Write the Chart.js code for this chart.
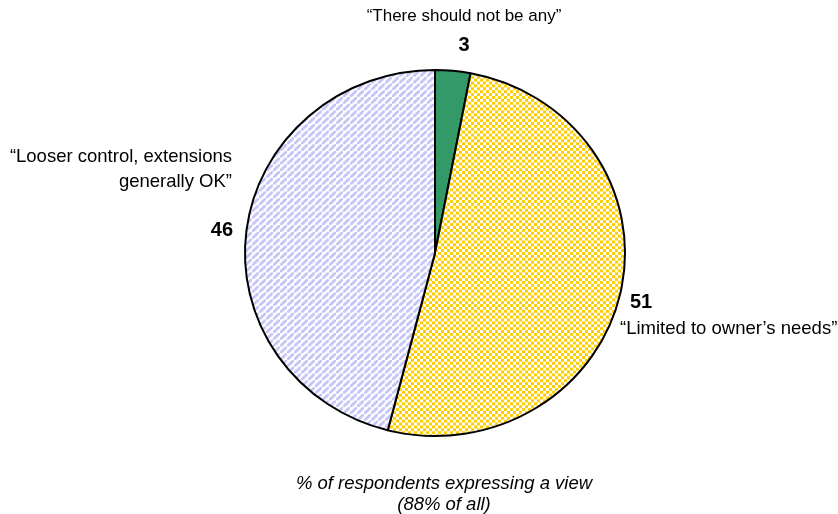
<!DOCTYPE html>
<html>
<head>
<meta charset="utf-8">
<script src="https://cdn.jsdelivr.net/npm/chart.js@4/dist/chart.umd.min.js"></script>
<style>
  html, body { margin: 0; padding: 0; background: #fff; }
  #wrap { width: 838px; height: 514px; }
</style>
</head>
<body>
<div id="wrap"><canvas id="pieChart" width="838" height="514"></canvas></div>
<script>
// data, clockwise from 12 o'clock
const categories = ['“There should not be any”', '“Limited to owner’s needs”', '“Looser control, extensions generally OK”'];
const shares = [3, 51, 46];
const valueLabels = ['3', '51', '46'];
const footnote = ['% of respondents expressing a view', '(88% of all)'];

document.addEventListener('DOMContentLoaded', function() {
    const ctx = document.getElementById('pieChart').getContext('2d');

    function checkerPattern(color, cell) {
        const c = document.createElement('canvas');
        c.width = cell * 2;
        c.height = cell * 2;
        const g = c.getContext('2d');
        g.fillStyle = '#fff';
        g.fillRect(0, 0, c.width, c.height);
        g.fillStyle = color;
        g.fillRect(0, 0, cell, cell);
        g.fillRect(cell, cell, cell, cell);
        return ctx.createPattern(c, 'repeat');
    }

    function stripePattern(color, size, width) {
        const c = document.createElement('canvas');
        c.width = size;
        c.height = size;
        const g = c.getContext('2d');
        g.fillStyle = '#fff';
        g.fillRect(0, 0, size, size);
        g.strokeStyle = color;
        g.lineWidth = width;
        g.beginPath();
        g.moveTo(-size, size * 2); g.lineTo(size * 2, -size);
        g.moveTo(-size * 2, size); g.lineTo(size, -size * 2);
        g.moveTo(0, size * 3); g.lineTo(size * 3, 0);
        g.stroke();
        return ctx.createPattern(c, 'repeat');
    }

    const fills = [
        '#339966',
        checkerPattern('#FFCC00', 3),
        stripePattern('#C4C4F8', 7, 2.8)
    ];

    // squash the pie a little vertically, as in the original
    const squash = {
        id: 'squash',
        beforeDatasetsDraw(chart) {
            const arc = chart.getDatasetMeta(0).data[0];
            const c = chart.ctx;
            c.save();
            c.translate(arc.x, arc.y);
            c.scale(1, 184 / 191);
            c.translate(-arc.x, -arc.y);
        },
        afterDatasetsDraw(chart) {
            chart.ctx.restore();
        }
    };

    const labelText = {
        id: 'labelText',
        afterDraw(chart) {
            const c = chart.ctx;
            c.save();
            c.fillStyle = '#000';
            c.textBaseline = 'alphabetic';

            const reg = '18.5px "Liberation Sans", Arial, sans-serif';
            const bold = 'bold 20px "Liberation Sans", Arial, sans-serif';

            // slice 0
            c.textAlign = 'center';
            c.font = '17px "Liberation Sans", Arial, sans-serif';
            c.fillText(categories[0], 464, 21);
            c.font = bold;
            c.fillText(valueLabels[0], 464, 51);

            // slice 1
            c.textAlign = 'left';
            c.font = bold;
            c.fillText(valueLabels[1], 630, 308);
            c.font = reg;
            c.fillText(categories[1], 620, 334);

            // slice 2
            c.textAlign = 'right';
            c.font = reg;
            c.fillText('“Looser control, extensions', 232, 162);
            c.fillText('generally OK”', 232, 187);
            c.font = bold;
            c.fillText(valueLabels[2], 233, 236);

            // footnote
            c.textAlign = 'center';
            c.font = 'italic 18.5px "Liberation Sans", Arial, sans-serif';
            c.fillText(footnote[0], 444, 489);
            c.fillText(footnote[1], 444, 510);
            c.restore();
        }
    };

    const chartConfig = {
        type: 'pie',
        data: {
            labels: categories,
            datasets: [{
                data: shares,
                backgroundColor: fills,
                borderColor: '#000',
                borderWidth: 2
            }]
        },
        options: {
            responsive: false,
            animation: false,
            layout: {
                padding: { left: 244, right: 212, top: 62, bottom: 70 }
            },
            plugins: {
                legend: { display: false },
                tooltip: { enabled: false }
            }
        },
        plugins: [squash, labelText]
    };

    new Chart(ctx, chartConfig);
});
</script>
</body>
</html>
